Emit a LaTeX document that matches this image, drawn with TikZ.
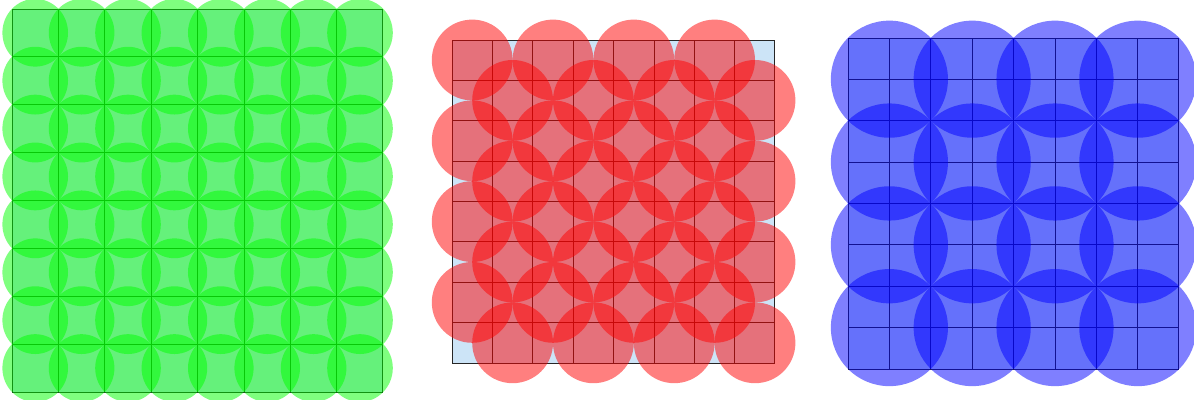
\documentclass[tikz,border=0pt]{standalone}
\usepackage{xcolor}
\usepackage{tikz}
\definecolor{panelbg}{RGB}{204,228,247}
\definecolor{mygreen}{RGB}{0,255,0}
\definecolor{myred}{RGB}{255,0,0}
\definecolor{myblue}{RGB}{0,0,255}
\tikzset{
  cellbg/.style={fill=panelbg},
  cellgrid/.style={draw=black!85, line width=0.7pt},
  greendisc/.style={fill=mygreen, fill opacity=0.5},
  reddisc/.style={fill=myred, fill opacity=0.5},
  bluedisc/.style={fill=myblue, fill opacity=0.5}
}
\begin{document}
\begin{tikzpicture}[x=0.025cm, y=0.025cm]

  \useasboundingbox (0,0) rectangle (1194,400);

  % Left panel: one disc round every cell
  \begin{scope}[shift={(12,8)}, xscale=46.4, yscale=47.9]
    \fill[cellbg] (0,0) rectangle (8,8);
    \draw[cellgrid] (0,0) grid[step=1] (8,8);
    \foreach \i in {0,...,7}
      \foreach \k in {0,...,7}
        \fill[greendisc] (\i+0.5,\k+0.5) circle[radius=0.7071];
  \end{scope}

  % Middle panel: discs on every other cell
  \begin{scope}[shift={(452,37)}, scale=40.4]
    \fill[cellbg] (0,0) rectangle (8,8);
    \draw[cellgrid] (0,0) grid[step=1] (8,8);
    \foreach \k in {0,...,7}
      \foreach \a in {0,...,3}
        \fill[reddisc] ({2*\a+1.5-mod(\k,2)},\k+0.5) circle[radius=1];
  \end{scope}

  % Right panel: one disc round every 2x2 block
  \begin{scope}[shift={(848,31)}, scale=41.4]
    \fill[cellbg] (0,0) rectangle (8,8);
    \draw[cellgrid] (0,0) grid[step=1] (8,8);
    \foreach \a in {0,...,3}
      \foreach \b in {0,...,3}
        \fill[bluedisc] (2*\a+1,2*\b+1) circle[radius=1.4142];
  \end{scope}

\end{tikzpicture}
\end{document}
